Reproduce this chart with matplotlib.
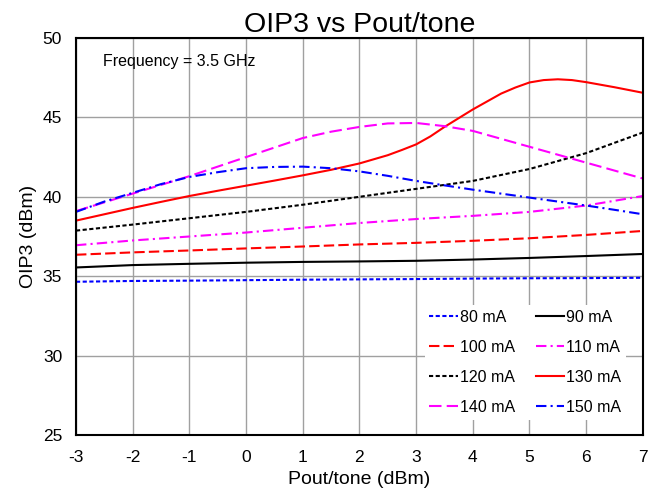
import matplotlib
matplotlib.use('Agg')
import matplotlib.pyplot as plt

plt.rcParams['font.family'] = ['Liberation Sans', 'DejaVu Sans']
plt.rcParams['axes.unicode_minus'] = False

# Output power per tone (dBm)
pout = [-3, -2, -1, 0, 1, 2, 3, 4, 5, 6, 7]
pout_fine = [-3, -2.5, -2, -1.5, -1, -0.5, 0, 0.5, 1, 1.5, 2, 2.5, 3, 3.5,
             4, 4.5, 5, 5.5, 6, 6.5, 7]
pout_130 = [-3, -2.5, -2, -1.5, -1, -0.5, 0, 0.5, 1, 1.5, 2, 2.5, 2.75, 3,
            3.25, 3.5, 3.75, 4, 4.25, 4.5, 4.75, 5, 5.25, 5.5, 5.75, 6, 6.5, 7]

# OIP3 (dBm) per bias current
oip3_80 = [34.65, 34.7, 34.72, 34.75, 34.78, 34.8, 34.82, 34.85, 34.87, 34.88, 34.9]
oip3_90 = [35.55, 35.7, 35.78, 35.85, 35.9, 35.93, 35.97, 36.05, 36.15, 36.27, 36.4]
oip3_100 = [36.35, 36.5, 36.62, 36.75, 36.87, 37.0, 37.1, 37.23, 37.39, 37.6, 37.85]
oip3_110 = [36.95, 37.25, 37.5, 37.75, 38.05, 38.35, 38.6, 38.8, 39.05, 39.45, 40.05]
oip3_120 = [37.87, 38.25, 38.65, 39.05, 39.5, 40.0, 40.5, 41.0, 41.75, 42.75, 44.05]
oip3_130 = [38.5, 38.9, 39.3, 39.68, 40.05, 40.38, 40.7, 41.02, 41.35, 41.7, 42.1,
            42.62, 42.95, 43.3, 43.8, 44.4, 44.95, 45.5, 46.0, 46.5, 46.88,
            47.2, 47.35, 47.4, 47.35, 47.22, 46.9, 46.55]
oip3_140 = [39.1, 39.65, 40.2, 40.75, 41.3, 41.9, 42.5, 43.1, 43.7, 44.1, 44.4,
            44.62, 44.65, 44.45, 44.15, 43.65, 43.15, 42.65, 42.15, 41.65, 41.15]
oip3_150 = [39.05, 39.7, 40.25, 40.8, 41.25, 41.55, 41.8, 41.88, 41.9, 41.8, 41.6,
            41.32, 41.0, 40.72, 40.45, 40.2, 39.95, 39.7, 39.45, 39.18, 38.9]

fig = plt.figure(figsize=(6.58, 4.98), dpi=100)
ax = fig.add_axes([0.1155, 0.1265, 0.8615, 0.7972])

dot = (0, (2, 1.2))
dash = (0, (5, 2))
dashdot = (0, (5, 2, 1, 2))
lw = 1.5

l80, = ax.plot(pout, oip3_80, color='#0000ff', ls=dot, lw=lw, label='80 mA')
l90, = ax.plot(pout, oip3_90, color='black', ls='-', lw=lw, label='90 mA')
l100, = ax.plot(pout, oip3_100, color='#ff0000', ls=dash, lw=lw, label='100 mA')
l110, = ax.plot(pout, oip3_110, color='#ff00ff', ls=dashdot, lw=lw, label='110 mA')
l120, = ax.plot(pout, oip3_120, color='black', ls=dot, lw=lw, label='120 mA')
l130, = ax.plot(pout_130, oip3_130, color='#ff0000', ls='-', lw=lw, label='130 mA')
l140, = ax.plot(pout_fine, oip3_140, color='#ff00ff', ls=(0, (6, 2.5)), lw=lw, label='140 mA')
l150, = ax.plot(pout_fine, oip3_150, color='#0000ff', ls=dashdot, lw=lw, label='150 mA')

ax.set_xlim(-3, 7)
ax.set_ylim(25, 50)
ax.set_xticks(range(-3, 8))
ax.set_yticks(range(25, 51, 5))
ax.grid(True, color='#a0a0a0', lw=1)
ax.set_axisbelow(True)
ax.tick_params(length=0, labelsize=12.5)
ax.tick_params(axis='x', pad=11)
ax.tick_params(axis='y', pad=10)
for s in ax.spines.values():
    s.set_color('black')
    s.set_linewidth(1.5)

ax.set_title('OIP3 vs Pout/tone', fontsize=20.5, pad=4)
ax.set_xlabel('Pout/tone (dBm)', fontsize=14, labelpad=4)
ax.set_ylabel('OIP3 (dBm)', fontsize=14, labelpad=4)
ax.text(0.047, 0.94, 'Frequency = 3.5 GHz', transform=ax.transAxes,
        fontsize=11.5, va='center')

# row-major order like the original legend
handles = [l80, l100, l120, l140, l90, l110, l130, l150]
leg = ax.legend(handles=handles, ncol=2, loc='lower right',
                bbox_to_anchor=(0.984, 0.018),
                frameon=True, fancybox=False, edgecolor='none', framealpha=1,
                fontsize=11.5, handlelength=1.8, handletextpad=0.1,
                columnspacing=1.3, labelspacing=0.95, borderpad=0.3)

fig.savefig('out.png', dpi=100)
